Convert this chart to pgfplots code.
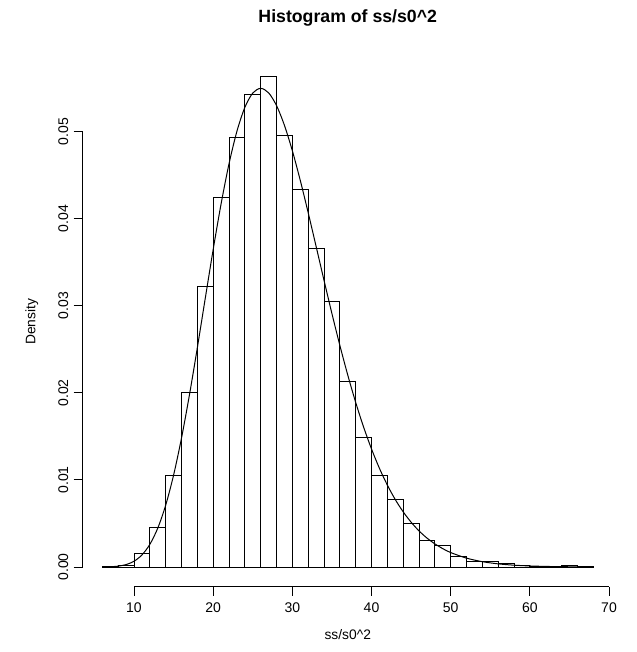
\documentclass[border=0pt]{standalone}
\usepackage{pgfplots}
\pgfplotsset{compat=1.18}
\usepackage{fontspec}
\setmainfont{Liberation Sans}
\begin{document}
\begin{tikzpicture}
\useasboundingbox (0,0) rectangle (637bp,652bp);
\begin{axis}[
  at={(82.7bp,65.4bp)}, anchor=south west,
  scale only axis, width=530.1bp, height=529.4bp,
  xmin=3.52, xmax=70.48, ymin=-0.00225, ymax=0.05855,
  axis x line*=bottom, axis y line*=left,
  axis line style={draw=none},
  clip=false,
  tick align=outside, major tick length=9bp,
  tick style={black, line width=0.9bp},
  xtick={10,20,30,40,50,60,70},
  ytick={0,0.01,0.02,0.03,0.04,0.05},
  scaled y ticks=false,
  /pgf/number format/assume math mode=true,
  yticklabel style={/pgf/number format/fixed, /pgf/number format/fixed zerofill, /pgf/number format/precision=2, rotate=90, anchor=south},
  xticklabel shift=3.5bp,
  yticklabel shift=2bp,
  ticklabel style={font=\fontsize{14bp}{16bp}\selectfont},
  label style={font=\fontsize{13.8bp}{16bp}\selectfont},
  xlabel={ss/s0\textasciicircum 2},
  ylabel={Density},
  xlabel style={at={(axis description cs:0.5,-0.0914)}, anchor=center},
  ylabel style={at={(axis description cs:-0.0958,0.5)}, anchor=center, rotate=0},
  title={\bfseries Histogram of ss/s0\textasciicircum 2},
  title style={at={(axis description cs:0.5,1.0627)}, anchor=center, font=\fontsize{17.7bp}{20bp}\selectfont},
]
\draw[black, line width=0.9bp] (axis cs:10,-0.00225) -- (axis cs:70,-0.00225);
\draw[black, line width=0.9bp] (axis cs:3.52,0) -- (axis cs:3.52,0.05);
\addplot[ybar interval, draw=black, fill=white, line width=1bp] coordinates {
(6,0.00003) (8,0.00015) (10,0.00153) (12,0.00452) (14,0.01050) (16,0.02004)
(18,0.03220) (20,0.04245) (22,0.04927) (24,0.05430) (26,0.05630) (28,0.04957)
(30,0.04330) (32,0.03659) (34,0.03050) (36,0.02126) (38,0.01490) (40,0.01054)
(42,0.00778) (44,0.00498) (46,0.00303) (48,0.00249) (50,0.00119) (52,0.00069)
(54,0.00061) (56,0.00038) (58,0.00020) (60,0.00010) (62,0.00005) (64,0.00012)
(66,0.00003) (68,0)
};
\addplot[black, line width=1bp, smooth, mark=none] coordinates {
(6,0.0000064) (7,0.0000287) (8,0.0000987) (9,0.000277) (10,0.000660)
(11,0.001382) (12,0.002597) (13,0.00446) (14,0.00709) (15,0.01055)
(16,0.01481) (17,0.01975) (18,0.02518) (19,0.03085) (20,0.03646)
(21,0.04170) (22,0.04630) (23,0.05004) (24,0.05278) (25,0.05443)
(26,0.05497) (27,0.05446) (28,0.05300) (29,0.05073) (30,0.04781)
(31,0.04441) (32,0.04070) (33,0.03683) (34,0.03293) (35,0.02911)
(36,0.02546) (37,0.02205) (38,0.01891) (39,0.01608) (40,0.01356)
(41,0.01134) (42,0.00941) (43,0.00775) (44,0.00634) (45,0.00515)
(46,0.00415) (47,0.00333) (48,0.00266) (49,0.00211) (50,0.00166)
(52,0.001019) (54,0.000612) (56,0.000361) (58,0.000210) (60,0.000120)
(62,0.0000674) (64,0.0000375) (66,0.0000206) (68,0.0000112)
};
\end{axis}
\end{tikzpicture}
\end{document}
